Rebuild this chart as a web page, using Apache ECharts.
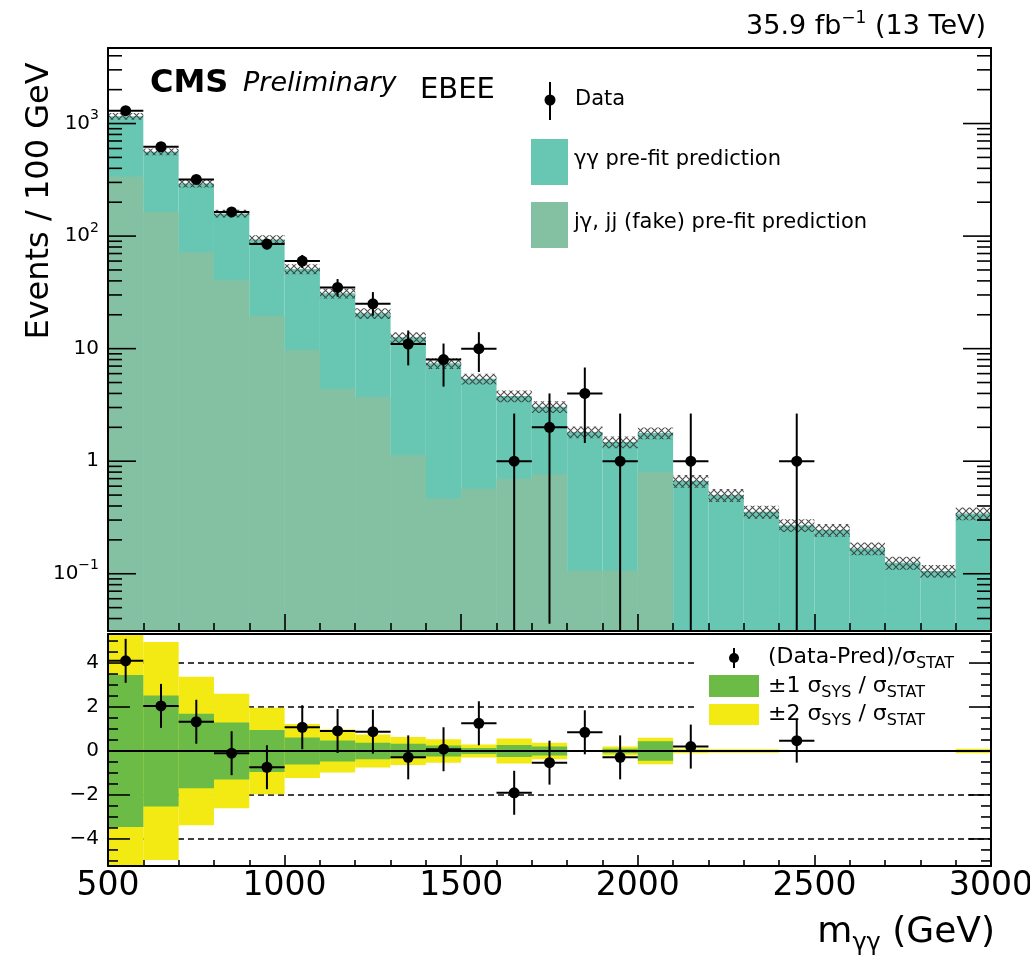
<!DOCTYPE html>
<html>
<head>
<meta charset="utf-8">
<script src="https://cdn.jsdelivr.net/npm/echarts@6/dist/echarts.min.js"></script>
<style>
html, body { margin: 0; background: #fff; }
#chart { width: 1030px; height: 957px; }
</style>
</head>
<body>
<div id="chart"></div>
<script>
// bin edges (GeV)
var binEdges = [500, 600, 700, 800, 900, 1000, 1100, 1200, 1300, 1400, 1500, 1600, 1700,
  1800, 1900, 2000, 2100, 2200, 2300, 2400, 2500, 2600, 2700, 2800, 2900, 3000];
// top of the stacked pre-fit prediction (gg + fake), events / 100 GeV
var predTotal = [1160, 561, 294, 159, 93.5, 51, 31, 20.6, 12.6, 7.4, 5.4, 3.8, 3.04,
  1.82, 1.48, 1.78, 0.668, 0.50, 0.355, 0.27, 0.245, 0.168, 0.125, 0.106, 0.343];
// fake (jg, jj) component
var predFake = [336, 164, 72, 40.6, 19.5, 9.7, 4.4, 3.7, 1.13, 0.466, 0.57, 0.70, 0.766,
  0.107, 0.107, 0.80, 0, 0, 0, 0, 0, 0, 0, 0, 0];
// relative systematic band on the prediction (hatched)
var sysFrac = [0.07, 0.07, 0.08, 0.08, 0.09, 0.1, 0.1, 0.11, 0.11, 0.11, 0.11, 0.12, 0.12,
  0.12, 0.12, 0.12, 0.13, 0.13, 0.13, 0.13, 0.13, 0.13, 0.13, 0.13, 0.13];
// observed data and error bar ends
var dataCount = [1300, 622, 319, 164, 85, 60, 35, 25, 11, 8, 10, 1, 2, 4, 1, null, 1, null, null, 1, null, null, null, null, null];
var dataLow = [1264, 597, 301, 151, 76, 52, 29, 19.6, 7.1, 4.6, 6.2, 0.03, 0.036, 1.45, 0.03, null, 0.03, null, null, 0.03, null, null, null, null, null];
var dataHigh = [1336, 647, 337, 177, 94, 68, 41.5, 31.8, 14.5, 11.1, 14, 2.65, 4.0, 6.8, 2.65, null, 2.65, null, null, 2.65, null, null, null, null, null];
// (Data-Pred)/sigma_stat
var pull = [4.1, 2.05, 1.33, -0.1, -0.74, 1.08, 0.91, 0.88, -0.29, 0.08, 1.26, -1.9, -0.53,
  0.85, -0.29, null, 0.2, null, null, 0.47, null, null, null, null, null];
var pullErr = [1, 1, 1, 1, 1, 1, 1, 1, 1, 1, 1, 1, 1, 1, 1, null, 1, null, null, 1, null, null, null, null, null];
// half widths of +-2 and +-1 sys/stat bands
var band2 = [5.6, 4.96, 3.38, 2.6, 1.97, 1.23, 0.98, 0.75, 0.64, 0.53, 0.3, 0.57, 0.38,
  0.03, 0.2, 0.6, 0.1, 0.08, 0.08, 0.02, 0.05, 0.02, 0.02, 0.02, 0.1];
var band1 = [3.46, 2.52, 1.69, 1.3, 0.95, 0.61, 0.48, 0.38, 0.33, 0.25, 0.14, 0.27, 0.2,
  0.015, 0.1, 0.44, 0.05, 0.04, 0.04, 0.01, 0.025, 0.01, 0.01, 0.01, 0.05];

// axis ticks: label base and optional superscript
var logMajor = [0.1, 1, 10, 100, 1000];
var logLabelBase = ['10', '1', '10', '10', '10'];
var logLabelSup = ['\u22121', '', '', '2', '3'];
var logMinor = [0.04, 0.05, 0.06, 0.07, 0.08, 0.09, 0.2, 0.3, 0.4, 0.5, 0.6, 0.7, 0.8, 0.9,
  2, 3, 4, 5, 6, 7, 8, 9, 20, 30, 40, 50, 60, 70, 80, 90, 200, 300, 400, 500, 600, 700, 800, 900,
  2000, 3000, 4000];
var ratioMajor = [-4, -2, 0, 2, 4];
var ratioLabelBase = ['\u22124', '\u22122', '0', '2', '4'];
var ratioLabelSup = ['', '', '', '', ''];
var ratioMinor = [-5, -4.5, -3.5, -3, -2.5, -1.5, -1, -0.5, 0.5, 1, 1.5, 2.5, 3, 3.5, 4.5, 5];
var dashedLevels = [-4, -2, 2, 4];

var X_MIN = 500, X_MAX = 3000;
var Y_MIN = 0.031, Y_MAX = 4690;
var R_MIN = -5.23, R_MAX = 5.32;
var FONT = 'DejaVu Sans';
var TEAL = '#67c7b3', FAKE = '#84c1a2', GREEN = '#6bbb46', YELLOW = '#f3ea14';

var hatch = document.createElement('canvas');
hatch.width = 7; hatch.height = 7;
var hc = hatch.getContext('2d');
hc.strokeStyle = 'rgba(60,60,60,0.9)';
hc.lineWidth = 1.1;
hc.beginPath();
hc.moveTo(0, 0); hc.lineTo(7, 7);
hc.moveTo(7, 0); hc.lineTo(0, 7);
hc.stroke();

function histRows(values) {
  var rows = [];
  for (var i = 0; i < values.length; i++) {
    if (values[i] > 0) rows.push([binEdges[i], binEdges[i + 1], values[i]]);
  }
  return rows;
}

function barRender(color, base) {
  return function (params, api) {
    var a = api.coord([api.value(0), api.value(2)]);
    var b = api.coord([api.value(1), base]);
    return {
      type: 'rect',
      shape: { x: a[0], y: a[1], width: b[0] - a[0], height: b[1] - a[1] },
      style: { fill: color }
    };
  };
}

var bandRows = [];
var ratioBand2 = [], ratioBand1 = [];
var dataRows = [], pullRows = [];
for (var i = 0; i < predTotal.length; i++) {
  bandRows.push([binEdges[i], binEdges[i + 1], predTotal[i] * (1 - sysFrac[i]), predTotal[i] * (1 + sysFrac[i])]);
  ratioBand2.push([binEdges[i], binEdges[i + 1], band2[i]]);
  ratioBand1.push([binEdges[i], binEdges[i + 1], band1[i]]);
  if (dataCount[i] != null) dataRows.push([binEdges[i], binEdges[i + 1], dataCount[i], dataLow[i], dataHigh[i]]);
  if (pull[i] != null) pullRows.push([binEdges[i], binEdges[i + 1], pull[i], pull[i] - pullErr[i], pull[i] + pullErr[i]]);
}

function pointRender(params, api) {
  var lo = api.value(0), hi = api.value(1), c = (lo + hi) / 2;
  var p = api.coord([c, api.value(2)]);
  var pl = api.coord([lo, api.value(2)]);
  var ph = api.coord([hi, api.value(2)]);
  var eLo = api.coord([c, api.value(3)]);
  var eHi = api.coord([c, api.value(4)]);
  var st = { stroke: '#000', lineWidth: 2 };
  return {
    type: 'group',
    children: [
      { type: 'line', shape: { x1: pl[0], y1: p[1], x2: ph[0], y2: p[1] }, style: st },
      { type: 'line', shape: { x1: p[0], y1: eLo[1], x2: p[0], y2: eHi[1] }, style: st },
      { type: 'circle', shape: { cx: p[0], cy: p[1], r: 5.5 }, style: { fill: '#000' } }
    ]
  };
}

function tickRender(majorLen, minorLen) {
  return function (params, api) {
    var major = api.value(2) === 1;
    var len = major ? majorLen : minorLen;
    var l = api.coord([X_MIN, api.value(1)]);
    var r = api.coord([X_MAX, api.value(1)]);
    var st = { stroke: '#000', lineWidth: 1.6 };
    return {
      type: 'group',
      children: [
        { type: 'line', shape: { x1: l[0], y1: l[1], x2: l[0] + len, y2: l[1] }, style: st },
        { type: 'line', shape: { x1: r[0] - len, y1: r[1], x2: r[0], y2: r[1] }, style: st }
      ]
    };
  };
}

function labelRender(bases, sups, size, supSize) {
  return function (params, api) {
    var p = api.coord([X_MIN, api.value(1)]);
    var i = params.dataIndex;
    var txt = '{b|' + bases[i] + '}' + (sups[i] ? '{s|' + sups[i] + '}' : '');
    return {
      type: 'text',
      x: p[0] - 9,
      y: p[1],
      style: {
        text: txt,
        align: 'right', textAlign: 'right',
        verticalAlign: 'middle', textVerticalAlign: 'middle',
        fill: '#000',
        rich: {
          b: { fontSize: size, fontFamily: FONT, lineHeight: size + 10, verticalAlign: 'middle', fill: '#000' },
          s: { fontSize: supSize, fontFamily: FONT, lineHeight: supSize, verticalAlign: 'top', fill: '#000' }
        }
      }
    };
  };
}

var logTickRows = logMajor.map(function (v) { return [X_MIN, v, 1]; })
  .concat(logMinor.map(function (v) { return [X_MIN, v, 0]; }));
var ratioTickRows = ratioMajor.map(function (v) { return [X_MIN, v, 1]; })
  .concat(ratioMinor.map(function (v) { return [X_MIN, v, 0]; }));

function frameAxis(grid, pos, extra) {
  var a = {
    gridIndex: grid, position: pos, z: 6,
    axisLine: { show: true, onZero: false, lineStyle: { color: '#000', width: 2 } },
    axisTick: { show: false }, axisLabel: { show: false }, splitLine: { show: false }
  };
  for (var k in extra) a[k] = extra[k];
  return a;
}

var chart = echarts.init(document.getElementById('chart'));
var option = {
  animation: false,
  backgroundColor: '#fff',
  grid: [
    { left: 108, right: 39, top: 48, height: 583, containLabel: false, outerBoundsMode: 'none' },
    { left: 108, right: 39, top: 634, height: 232, containLabel: false, outerBoundsMode: 'none' }
  ],
  xAxis: [
    frameAxis(0, 'bottom', {
      type: 'value', min: X_MIN, max: X_MAX, interval: 500,
      axisTick: { show: true, inside: true, length: 17, lineStyle: { color: '#000', width: 1.6 } },
      minorTick: { show: true, splitNumber: 5, length: 8, lineStyle: { color: '#000', width: 1.6 } }
    }),
    frameAxis(1, 'bottom', {
      type: 'value', min: X_MIN, max: X_MAX, interval: 500,
      axisTick: { show: true, inside: true, length: 11, lineStyle: { color: '#000', width: 1.6 } },
      minorTick: { show: true, splitNumber: 5, length: 6, lineStyle: { color: '#000', width: 1.6 } },
      axisLabel: { show: true, fontSize: 33, fontFamily: FONT, color: '#000', margin: 4,
        formatter: function (v) { return String(v); } }
    }),
    frameAxis(0, 'top', { type: 'value', min: X_MIN, max: X_MAX }),
    frameAxis(1, 'top', { type: 'value', min: X_MIN, max: X_MAX })
  ],
  yAxis: [
    frameAxis(0, 'left', { type: 'log', logBase: 10, min: Y_MIN, max: Y_MAX }),
    frameAxis(1, 'left', { type: 'value', min: R_MIN, max: R_MAX }),
    frameAxis(0, 'right', { type: 'log', logBase: 10, min: Y_MIN, max: Y_MAX }),
    frameAxis(1, 'right', { type: 'value', min: R_MIN, max: R_MAX })
  ],
  series: [
    {
      name: 'gg pre-fit prediction', type: 'custom', xAxisIndex: 0, yAxisIndex: 0, z: 2, clip: true,
      encode: { x: [0, 1], y: 2 },
      renderItem: barRender(TEAL, Y_MIN), data: histRows(predTotal)
    },
    {
      name: 'fake pre-fit prediction', type: 'custom', xAxisIndex: 0, yAxisIndex: 0, z: 3, clip: true,
      encode: { x: [0, 1], y: 2 },
      renderItem: barRender(FAKE, Y_MIN), data: histRows(predFake)
    },
    {
      name: 'sys band', type: 'custom', xAxisIndex: 0, yAxisIndex: 0, z: 4, clip: true,
      encode: { x: [0, 1], y: [2, 3] },
      renderItem: function (params, api) {
        var a = api.coord([api.value(0), api.value(3)]);
        var b = api.coord([api.value(1), api.value(2)]);
        return {
          type: 'rect',
          shape: { x: a[0], y: a[1], width: b[0] - a[0], height: b[1] - a[1] },
          style: { fill: { image: hatch, repeat: 'repeat' } }
        };
      },
      data: bandRows
    },
    {
      name: 'Data', type: 'custom', xAxisIndex: 0, yAxisIndex: 0, z: 5, clip: true,
      encode: { x: [0, 1], y: [2, 3, 4] },
      renderItem: pointRender, data: dataRows
    },
    {
      name: 'log ticks', type: 'custom', xAxisIndex: 0, yAxisIndex: 0, z: 7,
      renderItem: tickRender(28, 14), data: logTickRows
    },
    {
      name: 'log labels', type: 'custom', xAxisIndex: 0, yAxisIndex: 0, z: 7,
      renderItem: labelRender(logLabelBase, logLabelSup, 20, 14), data: logMajor.map(function (v) { return [X_MIN, v]; })
    },
    {
      name: 'dashed', type: 'custom', xAxisIndex: 1, yAxisIndex: 1, z: 1,
      renderItem: function (params, api) {
        var a = api.coord([X_MIN, api.value(1)]);
        var b = api.coord([X_MAX, api.value(1)]);
        return { type: 'line', shape: { x1: a[0], y1: a[1], x2: b[0], y2: b[1] },
          style: { stroke: '#000', lineWidth: 1.5, lineDash: [6, 4] } };
      },
      data: dashedLevels.map(function (v) { return [X_MIN, v]; })
    },
    {
      name: '+-2 sys/stat', type: 'custom', xAxisIndex: 1, yAxisIndex: 1, z: 3, clip: true,
      renderItem: function (params, api) {
        var a = api.coord([api.value(0), api.value(2)]);
        var b = api.coord([api.value(1), -api.value(2)]);
        return { type: 'rect', shape: { x: a[0], y: a[1], width: b[0] - a[0], height: b[1] - a[1] }, style: { fill: YELLOW } };
      },
      data: ratioBand2
    },
    {
      name: '+-1 sys/stat', type: 'custom', xAxisIndex: 1, yAxisIndex: 1, z: 4, clip: true,
      renderItem: function (params, api) {
        var a = api.coord([api.value(0), api.value(2)]);
        var b = api.coord([api.value(1), -api.value(2)]);
        return { type: 'rect', shape: { x: a[0], y: a[1], width: b[0] - a[0], height: b[1] - a[1] }, style: { fill: GREEN } };
      },
      data: ratioBand1
    },
    {
      name: 'zero', type: 'custom', xAxisIndex: 1, yAxisIndex: 1, z: 5,
      renderItem: function (params, api) {
        var a = api.coord([X_MIN, 0]);
        var b = api.coord([X_MAX, 0]);
        return { type: 'line', shape: { x1: a[0], y1: a[1], x2: b[0], y2: b[1] }, style: { stroke: '#000', lineWidth: 2 } };
      },
      data: [[X_MIN, 0]]
    },
    {
      name: 'pull', type: 'custom', xAxisIndex: 1, yAxisIndex: 1, z: 6, clip: true,
      encode: { x: [0, 1], y: [2, 3, 4] },
      renderItem: pointRender, data: pullRows
    },
    {
      name: 'ratio ticks', type: 'custom', xAxisIndex: 1, yAxisIndex: 1, z: 7,
      renderItem: tickRender(22, 10), data: ratioTickRows
    },
    {
      name: 'ratio labels', type: 'custom', xAxisIndex: 1, yAxisIndex: 1, z: 7,
      renderItem: labelRender(ratioLabelBase, ratioLabelSup, 20, 14), data: ratioMajor.map(function (v) { return [X_MIN, v]; })
    }
  ],
  graphic: [
    { type: 'text', x: 986, y: 27, z: 10, style: {
      text: '{b|35.9 fb}{s|\u22121}{b| (13 TeV)}', align: 'right', textAlign: 'right', verticalAlign: 'middle', textVerticalAlign: 'middle',
      rich: { b: { fontSize: 27, fontFamily: FONT, lineHeight: 34, verticalAlign: 'middle', fill: '#000' },
              s: { fontSize: 17, fontFamily: FONT, lineHeight: 17, verticalAlign: 'top', fill: '#000' } } } },
    { type: 'text', x: 150, y: 84, z: 10, style: { text: 'CMS', font: 'bold 32px "DejaVu Sans"', fill: '#000', verticalAlign: 'middle', textVerticalAlign: 'middle' } },
    { type: 'text', x: 243, y: 84, z: 10, style: { text: 'Preliminary', font: 'italic 27px "DejaVu Sans"', fill: '#000', verticalAlign: 'middle', textVerticalAlign: 'middle' } },
    { type: 'text', x: 420, y: 90, z: 10, style: { text: 'EBEE', font: '29px "DejaVu Sans"', fill: '#000', verticalAlign: 'middle', textVerticalAlign: 'middle' } },
    { type: 'text', x: 40, y: 201, rotation: Math.PI / 2, z: 10, style: { text: 'Events / 100 GeV', font: '32px "DejaVu Sans"', fill: '#000',
      align: 'center', textAlign: 'center', verticalAlign: 'middle', textVerticalAlign: 'middle' } },
    { type: 'text', x: 995, y: 933, z: 10, style: {
      text: '{b|m}{u|\u03b3\u03b3}{b| (GeV)}', align: 'right', textAlign: 'right', verticalAlign: 'middle', textVerticalAlign: 'middle',
      rich: { b: { fontSize: 36, fontFamily: FONT, lineHeight: 46, verticalAlign: 'middle', fill: '#000' },
              u: { fontSize: 24, fontFamily: FONT, lineHeight: 24, verticalAlign: 'bottom', fill: '#000' } } } },
    // top legend
    { type: 'line', z: 10, shape: { x1: 550, y1: 82, x2: 550, y2: 120 }, style: { stroke: '#000', lineWidth: 2 } },
    { type: 'circle', z: 10, shape: { cx: 550, cy: 100, r: 5.5 }, style: { fill: '#000' } },
    { type: 'text', x: 575, y: 100, z: 10, style: { text: 'Data', font: '21px "DejaVu Sans"', fill: '#000', verticalAlign: 'middle', textVerticalAlign: 'middle' } },
    { type: 'rect', z: 10, shape: { x: 531, y: 139, width: 37, height: 46 }, style: { fill: TEAL } },
    { type: 'text', x: 574, y: 160, z: 10, style: { text: '\u03b3\u03b3 pre-fit prediction', font: '21px "DejaVu Sans"', fill: '#000', verticalAlign: 'middle', textVerticalAlign: 'middle' } },
    { type: 'rect', z: 10, shape: { x: 531, y: 202, width: 37, height: 46 }, style: { fill: FAKE } },
    { type: 'text', x: 574, y: 223, z: 10, style: { text: 'j\u03b3, jj (fake) pre-fit prediction', font: '21px "DejaVu Sans"', fill: '#000', verticalAlign: 'middle', textVerticalAlign: 'middle' } },
    // ratio legend
    { type: 'rect', z: 2, shape: { x: 697, y: 640, width: 291, height: 86 }, style: { fill: '#fff' } },
    { type: 'line', z: 10, shape: { x1: 734, y1: 648, x2: 734, y2: 668 }, style: { stroke: '#000', lineWidth: 2 } },
    { type: 'circle', z: 10, shape: { cx: 734, cy: 658, r: 5 }, style: { fill: '#000' } },
    { type: 'text', x: 768, y: 657, z: 10, style: {
      text: '{b|(Data-Pred)/\u03c3}{u|STAT}', verticalAlign: 'middle', textVerticalAlign: 'middle',
      rich: { b: { fontSize: 22, fontFamily: FONT, lineHeight: 30, verticalAlign: 'middle', fill: '#000' },
              u: { fontSize: 16, fontFamily: FONT, lineHeight: 16, verticalAlign: 'bottom', fill: '#000' } } } },
    { type: 'rect', z: 10, shape: { x: 709, y: 675, width: 50, height: 22 }, style: { fill: GREEN } },
    { type: 'text', x: 768, y: 686, z: 10, style: {
      text: '{b|\u00b11 \u03c3}{u|SYS}{b| / \u03c3}{u|STAT}', verticalAlign: 'middle', textVerticalAlign: 'middle',
      rich: { b: { fontSize: 22, fontFamily: FONT, lineHeight: 30, verticalAlign: 'middle', fill: '#000' },
              u: { fontSize: 16, fontFamily: FONT, lineHeight: 16, verticalAlign: 'bottom', fill: '#000' } } } },
    { type: 'rect', z: 10, shape: { x: 709, y: 704, width: 50, height: 21 }, style: { fill: YELLOW } },
    { type: 'text', x: 768, y: 714, z: 10, style: {
      text: '{b|\u00b12 \u03c3}{u|SYS}{b| / \u03c3}{u|STAT}', verticalAlign: 'middle', textVerticalAlign: 'middle',
      rich: { b: { fontSize: 22, fontFamily: FONT, lineHeight: 30, verticalAlign: 'middle', fill: '#000' },
              u: { fontSize: 16, fontFamily: FONT, lineHeight: 16, verticalAlign: 'bottom', fill: '#000' } } } }
  ]
};
chart.setOption(option);
</script>
</body>
</html>
